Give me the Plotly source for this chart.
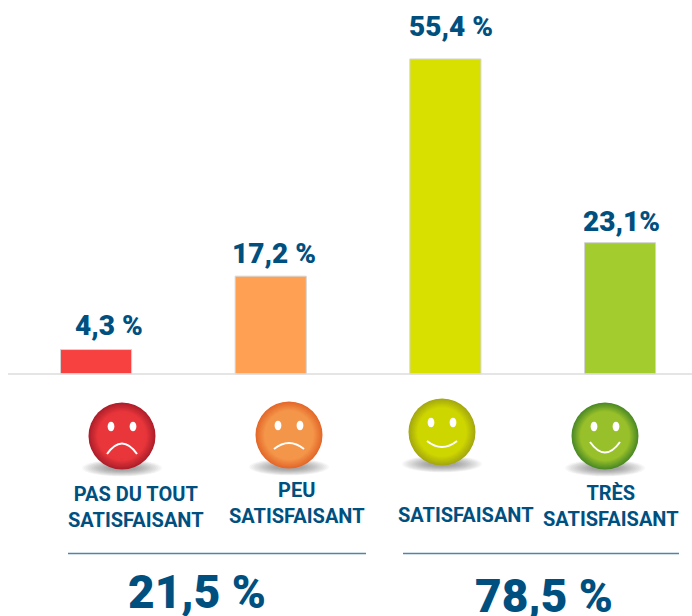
import plotly.graph_objects as go

categories = ["PAS DU TOUT<br>SATISFAISANT", "PEU<br>SATISFAISANT", "SATISFAISANT", "TRÈS<br>SATISFAISANT"]
values = [4.3, 17.2, 55.4, 23.1]
value_labels = ["4,3 %", "17,2 %", "55,4 %", "23,1%"]
group_labels = ["21,5 %", "78,5 %"]

W, H = 692, 616
BLUE = "#00507f"
bar_colors = ["#f74040", "#ffa052", "#d8e000", "#a3cc2e"]

fig = go.Figure(go.Bar(
    x=list(range(4)), y=values, width=0.407,
    marker=dict(color=bar_colors, line=dict(color="#d4d4d4", width=1)),
    hoverinfo="skip",
))

shapes, annotations = [], []
px = lambda x: x / W
py = lambda y: 1 - y / H

def hex2rgb(c):
    return [int(c[i:i + 2], 16) for i in (1, 3, 5)]

def mix(a, b, t):
    ra, rb = hex2rgb(a), hex2rgb(b)
    return "rgb(%d,%d,%d)" % tuple(round(u + (v - u) * t) for u, v in zip(ra, rb))

def ellipse(cx, cy, rx, ry, fill, opacity=1.0):
    shapes.append(dict(type="circle", xref="paper", yref="paper", layer="above",
                       x0=px(cx - rx), x1=px(cx + rx), y0=py(cy + ry), y1=py(cy - ry),
                       fillcolor=fill, opacity=opacity, line=dict(width=0)))

def hline(x0, x1, y, color, width):
    shapes.append(dict(type="line", xref="paper", yref="paper", layer="above",
                       x0=px(x0), x1=px(x1), y0=py(y), y1=py(y),
                       line=dict(color=color, width=width)))

hline(8, 692, 374, "#dcdcdc", 1.5)
hline(68, 366, 553.5, "#4c87a9", 1.5)
hline(403, 679, 553.5, "#4c87a9", 1.5)

faces = [
    (122, 436, "#e8363b", "#ad1f2b", 18, -3),
    (289, 435, "#f4964a", "#e4682a", 14, 2),
    (442, 432, "#ced600", "#a4a810", 9, 21),
    (605, 436, "#98c02a", "#4c8a26", 6, 27),
]
for cx, cy, inner, edge, end_dy, ctrl_dy in faces:
    for i in range(14):
        t = i / 13
        ellipse(cx, cy + 32, 40 - 26 * t, 8.5 - 6 * t, "#4a4a4a", 0.045)
    steps = 16
    for i in range(steps):
        t = i / (steps - 1)
        ellipse(cx, cy, 33.5 - 11 * t, 33.5 - 11 * t, mix(edge, inner, min(1, t * 1.25)))
    ellipse(cx - 11, cy - 9.5, 3.4, 4.8, "white")
    ellipse(cx + 11, cy - 9.5, 3.4, 4.8, "white")
    path = (f"M {px(cx - 15)} {py(cy + end_dy)} "
            f"Q {px(cx)} {py(cy + ctrl_dy)} {px(cx + 15)} {py(cy + end_dy)}")
    shapes.append(dict(type="path", xref="paper", yref="paper", layer="above", path=path,
                       line=dict(color="white", width=2)))

label_xshift = [13, 3, 6, 1]
label_yshift = [6, 4, 14, 3]
for i, (v, lab) in enumerate(zip(values, value_labels)):
    annotations.append(dict(x=i, y=v, xref="x", yref="y", text=lab, showarrow=False,
                            yanchor="bottom", yshift=label_yshift[i], xshift=label_xshift[i],
                            font=dict(family="Roboto", size=28, color=BLUE, weight=900)))

cat_pos = [(136, 507), (297, 503), (466, 515), (611, 506)]
for (x, y), c in zip(cat_pos, categories):
    annotations.append(dict(x=px(x), y=py(y), xref="paper", yref="paper", text=c, showarrow=False,
                            xanchor="center", yanchor="middle", align="center",
                            font=dict(family="Roboto", size=20, color=BLUE, weight=700)))

for (x, y), g in zip([(197, 592), (544, 596)], group_labels):
    annotations.append(dict(x=px(x), y=py(y), xref="paper", yref="paper", text=g, showarrow=False,
                            xanchor="center", yanchor="middle",
                            font=dict(family="Roboto", size=46, color=BLUE, weight=900)))

fig.update_layout(
    width=W, height=H, margin=dict(l=0, r=0, t=0, b=0),
    paper_bgcolor="white", plot_bgcolor="white", showlegend=False,
    xaxis=dict(range=[-0.55, 3.412], visible=False, fixedrange=True),
    yaxis=dict(range=[-42.56, 65.77], visible=False, fixedrange=True),
    shapes=shapes, annotations=annotations,
)
fig.write_html("out.html", config={"displayModeBar": False},
               post_script="document.body.style.margin='0';document.body.style.overflow='hidden';")
